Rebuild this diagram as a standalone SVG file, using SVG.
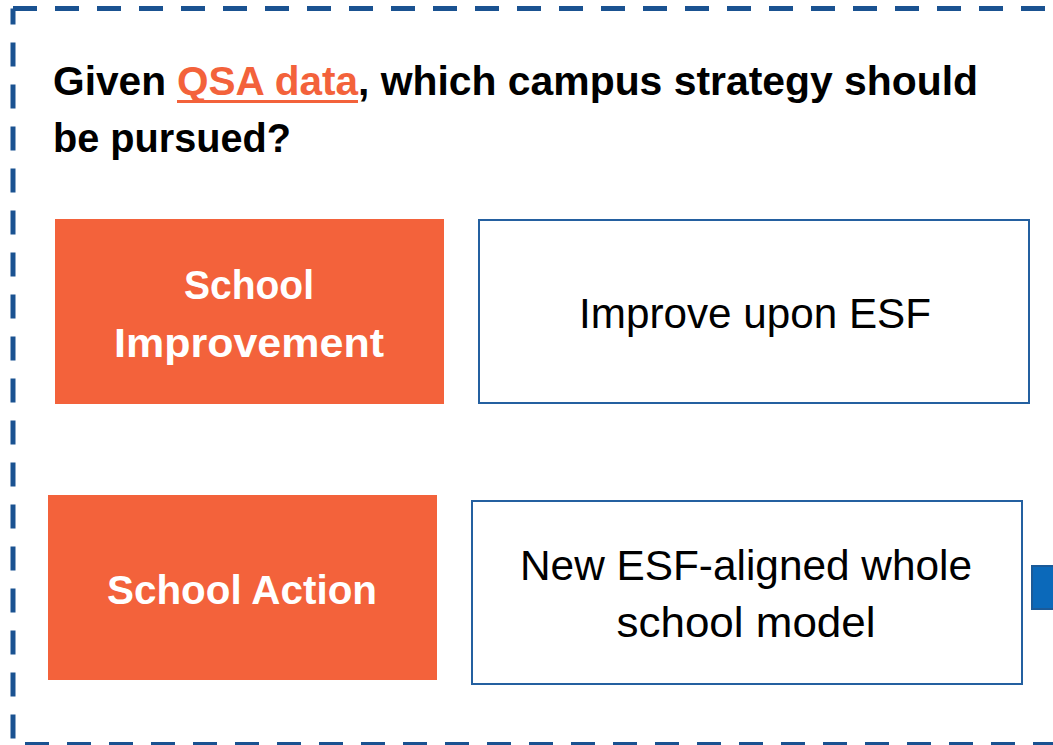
<svg xmlns="http://www.w3.org/2000/svg" width="1053" height="745" viewBox="0 0 1053 745">
<style>
.frame{fill:none;stroke:#1A5291;stroke-width:5;stroke-dasharray:24 18}
.org{fill:#F3623B}
.opt{fill:#FFFFFF;stroke:#2460A0;stroke-width:2}
.title{font-family:"Liberation Sans",Arial,sans-serif;font-weight:bold;font-size:40.7px;fill:#000}
.hl{fill:#F3623B}
.lbl{font-family:"Liberation Sans",Arial,sans-serif;font-weight:bold;font-size:41px;fill:#FFFFFF;text-anchor:middle}
.txt{font-family:"Liberation Sans",Arial,sans-serif;font-size:42px;fill:#000;text-anchor:middle}
</style>
<rect width="1053" height="745" fill="#FFFFFF"/>
<g id="frame">
<path class="frame" d="M13,8.5 H1060"/>
<path class="frame" d="M13,8.5 V742" stroke-dashoffset="8"/>
<path class="frame" d="M13,744.5 H1060" stroke-dashoffset="30"/>
</g>
<g id="title">
<text class="title" x="53" y="95">Given </text>
<text class="title hl" x="177" y="95" textLength="181" lengthAdjust="spacingAndGlyphs">QSA data</text>
<rect x="177" y="100" width="181" height="3" fill="#F3623B"/>
<text class="title" x="358" y="95" textLength="620" lengthAdjust="spacingAndGlyphs">, which campus strategy should</text>
<text class="title" x="53" y="152" textLength="238" lengthAdjust="spacingAndGlyphs">be pursued?</text>
</g>
<g id="school-improvement">
<rect class="org" x="55" y="219" width="389" height="185"/>
<text class="lbl" x="249" y="299" textLength="130" lengthAdjust="spacingAndGlyphs">School</text>
<text class="lbl" x="249" y="357" textLength="270" lengthAdjust="spacingAndGlyphs">Improvement</text>
</g>
<g id="improve-upon-esf">
<rect class="opt" x="479" y="220" width="550" height="183"/>
<text class="txt" x="755" y="328" textLength="352" lengthAdjust="spacingAndGlyphs">Improve upon ESF</text>
</g>
<g id="school-action">
<rect class="org" x="48" y="495" width="389" height="185"/>
<text class="lbl" x="242" y="604" textLength="270" lengthAdjust="spacingAndGlyphs">School Action</text>
</g>
<g id="new-model">
<rect class="opt" x="472" y="501" width="550" height="183"/>
<text class="txt" x="746" y="580" textLength="452" lengthAdjust="spacingAndGlyphs">New ESF-aligned whole</text>
<text class="txt" x="746" y="637" textLength="259" lengthAdjust="spacingAndGlyphs">school model</text>
</g>
<g id="connectors">
<rect x="1032" y="566" width="30" height="43" fill="#0B69BA" stroke="#1B5A98" stroke-width="2"/>
</g>
</svg>
